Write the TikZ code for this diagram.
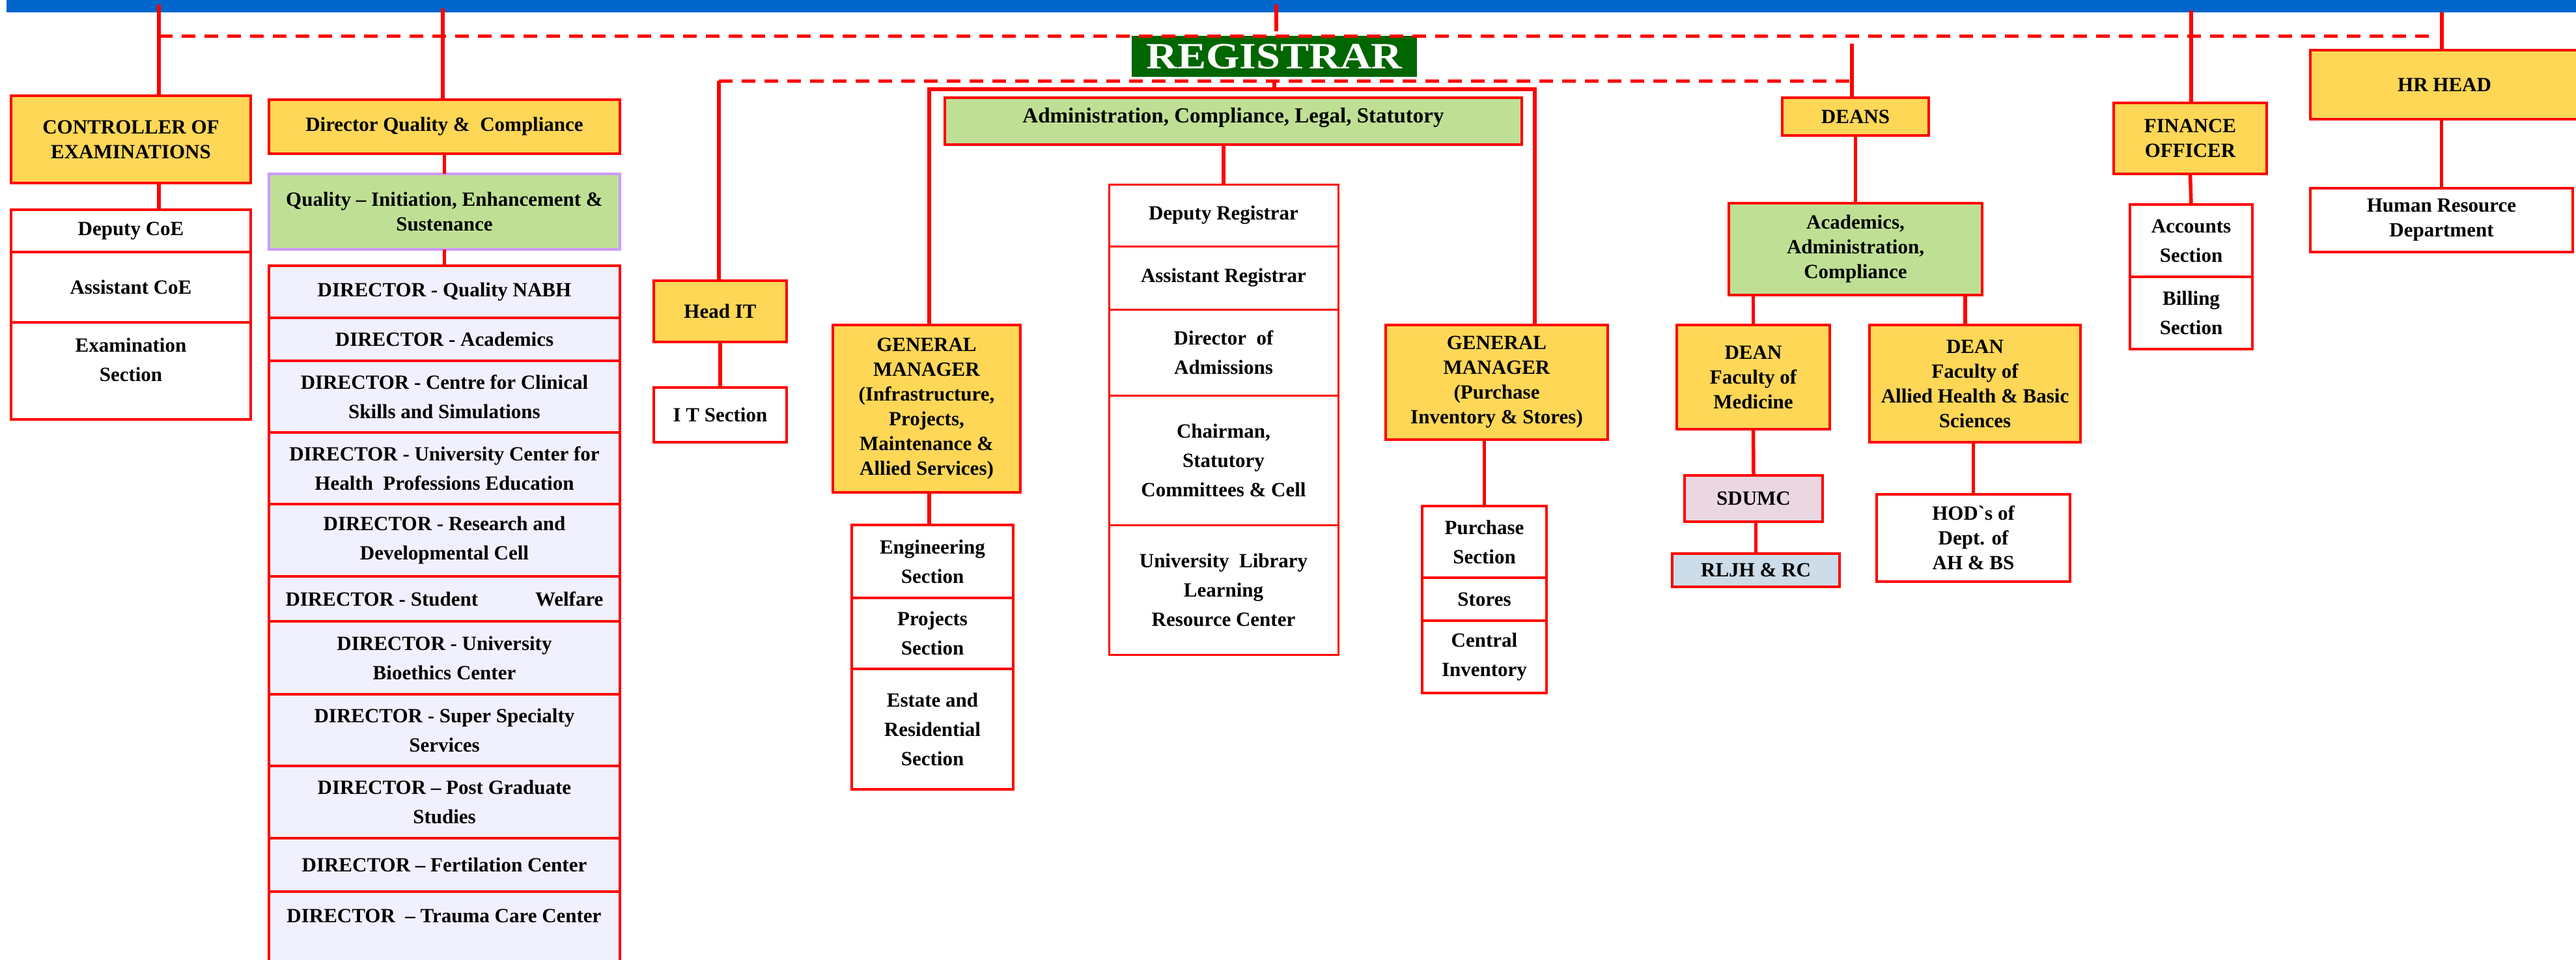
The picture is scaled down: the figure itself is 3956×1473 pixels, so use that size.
\documentclass[tikz,border=0pt]{standalone}
\usepackage{fontspec}
\setmainfont{Liberation Serif}
\usepackage{graphicx}
\usetikzlibrary{calc}
\definecolor{bluebar}{HTML}{0066CC}
\definecolor{ored}{HTML}{FF0000}
\definecolor{yel}{HTML}{FFD757}
\definecolor{lgreen}{HTML}{BFE094}
\definecolor{lav}{HTML}{F0F0FF}
\definecolor{pinkb}{HTML}{EAD7E1}
\definecolor{lblue}{HTML}{CCDCE8}
\definecolor{dgreen}{HTML}{006600}
\definecolor{purp}{HTML}{CC99FF}
\newcommand\bx[7]{\node[#6,minimum width={(#4-(#2))*1pt},minimum height={(#5-(#3))*1pt}] (#1) at ({(#2+#4)/2},{(#3+#5)/2}) {#7};}
\tikzset{
 conn/.style={draw=ored, line width=5.5pt},
 dashln/.style={draw=ored, line width=5pt, dash pattern=on 21pt off 14pt},
 base/.style={rectangle, inner sep=0pt, outer sep=0pt, align=center, font=\fontsize{31}{38}\selectfont\bfseries},
 ybox/.style={base, draw=ored, fill=yel, line width=4.5pt},
 gbox/.style={base, draw=ored, fill=lgreen, line width=4.5pt},
 wbox/.style={base, draw=ored, fill=white, line width=4.5pt, font=\fontsize{31}{45}\selectfont\bfseries},
 lbox/.style={wbox, fill=lav, line width=4pt},
 rbox/.style={wbox, line width=3pt},
 txt/.style={align=center, inner sep=0pt, font=\fontsize{31}{45}\selectfont\bfseries},
}
\begin{document}
\begin{tikzpicture}[x=1pt,y=-1pt]
\useasboundingbox (0,0) rectangle (3956,1473);
\node[fill=bluebar, minimum width=3946pt, minimum height=19pt, inner sep=0pt, anchor=north west] (bar) at (10,0) {};

% ---------- Controller of examinations
\bx{coe}{17}{147}{385}{281}{ybox}{CONTROLLER OF\\EXAMINATIONS}
\bx{dcoe}{17}{322}{385}{387}{wbox}{Deputy CoE}
\bx{acoe}{17}{387}{385}{495}{wbox}{Assistant CoE}
\bx{exam}{17}{495}{385}{644}{wbox}{}
\node[txt] (examt) at (201,552) {Examination\\Section};

% ---------- Director quality
\bx{dqc}{413}{153}{952}{236}{ybox}{Director Quality \&\ \ Compliance}
\bx{qual}{413}{267}{952}{383}{base, draw=purp, fill=lgreen, line width=4.5pt}{Quality – Initiation, Enhancement \&\\Sustenance}
\bx{d1}{413}{408}{952}{488}{lbox}{DIRECTOR - Quality NABH}
\bx{d2}{413}{488}{952}{554}{lbox}{DIRECTOR - Academics}
\bx{d3}{413}{554}{952}{664}{lbox}{DIRECTOR - Centre for Clinical\\Skills and Simulations}
\bx{d4}{413}{664}{952}{774}{lbox}{DIRECTOR - University Center for\\Health\ \ Professions Education}
\bx{d5}{413}{774}{952}{885}{lbox}{DIRECTOR - Research and\\Developmental Cell}
\bx{d6}{413}{885}{952}{954}{lbox}{\hbox to 488pt{DIRECTOR - Student\hfill Welfare}}
\bx{d7}{413}{954}{952}{1066}{lbox}{DIRECTOR - University\\Bioethics Center}
\bx{d8}{413}{1066}{952}{1176}{lbox}{DIRECTOR - Super Specialty\\Services}
\bx{d9}{413}{1176}{952}{1287}{lbox}{DIRECTOR – Post Graduate\\Studies}
\bx{d10}{413}{1287}{952}{1369}{lbox}{DIRECTOR – Fertilation Center}
\bx{d11}{413}{1369}{952}{1490}{lbox}{}
\node[txt] (d11t) at (682,1406) {DIRECTOR\ \ – Trauma Care Center};

% ---------- Registrar
\bx{reg}{1738}{55}{2176}{118}{base, fill=dgreen, text=white, font=\fontsize{57}{60}\selectfont\bfseries}{\scalebox{1.16}[1]{REGISTRAR}}

\bx{headit}{1004}{431}{1208}{525}{ybox}{Head IT}
\bx{itsec}{1004}{595}{1208}{679}{wbox}{I T Section}

\bx{admin}{1451}{150}{2337}{222}{gbox}{}
\node[txt, font=\fontsize{33}{40}\selectfont\bfseries] (admint) at (1894,181) {Administration, Compliance, Legal, Statutory};
\bx{r1}{1703}{283}{2055}{378}{rbox}{Deputy Registrar}
\bx{r2}{1703}{378}{2055}{475}{rbox}{Assistant Registrar}
\bx{r3}{1703}{475}{2055}{607}{rbox}{Director\ \ of\\Admissions}
\bx{r4}{1703}{607}{2055}{806}{rbox}{Chairman,\\Statutory\\Committees \& Cell}
\bx{r5}{1703}{806}{2055}{1005}{rbox}{University\ \ Library\\Learning\\Resource Center}

\bx{gm1}{1279}{499}{1567}{756}{ybox}{GENERAL\\MANAGER\\(Infrastructure,\\Projects,\\Maintenance \&\\Allied Services)}
\bx{eng}{1308}{806}{1556}{918}{wbox}{Engineering\\Section}
\bx{proj}{1308}{918}{1556}{1027}{wbox}{Projects\\Section}
\bx{estate}{1308}{1027}{1556}{1212}{wbox}{Estate and\\Residential\\Section}

\bx{gm2}{2128}{499}{2469}{675}{ybox}{GENERAL\\MANAGER\\(Purchase\\Inventory \& Stores)}
\bx{pur}{2184}{777}{2375}{887}{wbox}{Purchase\\Section}
\bx{stores}{2184}{887}{2375}{953}{wbox}{Stores}
\bx{cinv}{2184}{953}{2375}{1064}{wbox}{Central\\Inventory}

% ---------- Deans
\bx{deans}{2737}{150}{2962}{208}{ybox}{DEANS}
\bx{acad}{2655}{312}{3044}{453}{gbox}{Academics,\\Administration,\\Compliance}
\bx{med}{2575}{499}{2810}{659}{ybox}{DEAN\\Faculty of\\Medicine}
\bx{allied}{2871}{499}{3195}{679}{ybox}{DEAN\\Faculty of\\Allied Health \& Basic\\Sciences}
\bx{sdumc}{2587}{730}{2799}{801}{base, draw=ored, fill=pinkb, line width=3.5pt}{SDUMC}
\bx{rljh}{2568}{850}{2825}{901}{base, draw=ored, fill=lblue, line width=3.5pt}{RLJH \& RC}
\bx{hod}{2882}{759}{3179}{893}{ybox, fill=white}{HOD\textasciigrave s of\\Dept. of\\AH \& BS}

% ---------- Finance and HR
\bx{fin}{3246}{158}{3481}{267}{ybox}{FINANCE\\OFFICER}
\bx{acc}{3271}{314}{3459}{425}{wbox}{Accounts\\Section}
\bx{bill}{3271}{425}{3459}{536}{wbox}{Billing\\Section}
\bx{hr}{3548}{77}{3960}{183}{ybox}{HR HEAD}
\bx{hrd}{3548}{289}{3951}{387}{wbox, font=\fontsize{31}{38}\selectfont\bfseries}{Human Resource\\Department}

% ---------- connectors from the top bar
\coordinate (xcoe) at (244,7);
\coordinate (xdqc) at (680,13);
\coordinate (xreg) at (1960,7);
\coordinate (xfin) at (3365,16);
\coordinate (xhr) at (3750,19);
\draw[conn] (xcoe) -- (xcoe |- coe.north);
\draw[conn] (xdqc) -- (xdqc |- dqc.north);
\draw[conn] (xreg) -- (1960,48);
\draw[conn] (xfin) -- (xfin |- fin.north);
\draw[conn] (xhr) -- (xhr |- hr.north);

% dashed lines
\coordinate (da) at (244,55);
\coordinate (db) at (3735,55);
\draw[dashln] (da) -- (db);
\coordinate (dc) at (1104,124);
\coordinate (dd) at (2844,124);
\draw[dashln] (dc) -- (dd);
\draw[conn] (dc) -- (dc |- headit.north);
\draw[conn] (2844,67) -- (2844,150);

% registrar branch
\coordinate (hl) at (1427,137);
\coordinate (hrr) at (2357,137);
\draw[conn] (1957,124) -- (1957,137);
\draw[conn] (gm1.north -| hl) |- (hrr) -- (hrr |- gm2.north);
\draw[conn] (headit.south) -- (itsec.north);
\draw[conn] (admin.south -| r1.north) -- (r1.north);
\draw[conn] (gm1.south -| hl) -- (hl |- eng.north);
\draw[conn] (pur.north |- gm2.south) -- (pur.north);

% other connectors
\draw[conn] (xcoe |- coe.south) -- (xcoe |- dcoe.north);
\draw[conn] (dqc.south) -- (qual.north);
\draw[conn] (qual.south) -- (d1.north);
\draw[conn] (deans.south) -- (acad.north);
\draw[conn] (med.north |- acad.south) -- (med.north);
\coordinate (xal) at (3018,453);
\draw[conn] (xal) -- (xal |- allied.north);
\draw[conn] (med.south) -- (sdumc.north);
\draw[conn] (rljh.north |- sdumc.south) -- (rljh.north);
\draw[conn] (hod.north |- allied.south) -- (hod.north);
\draw[conn] (fin.south) -- (acc.north);
\draw[conn] (hrd.north |- hr.south) -- (hrd.north);
\end{tikzpicture}
\end{document}
